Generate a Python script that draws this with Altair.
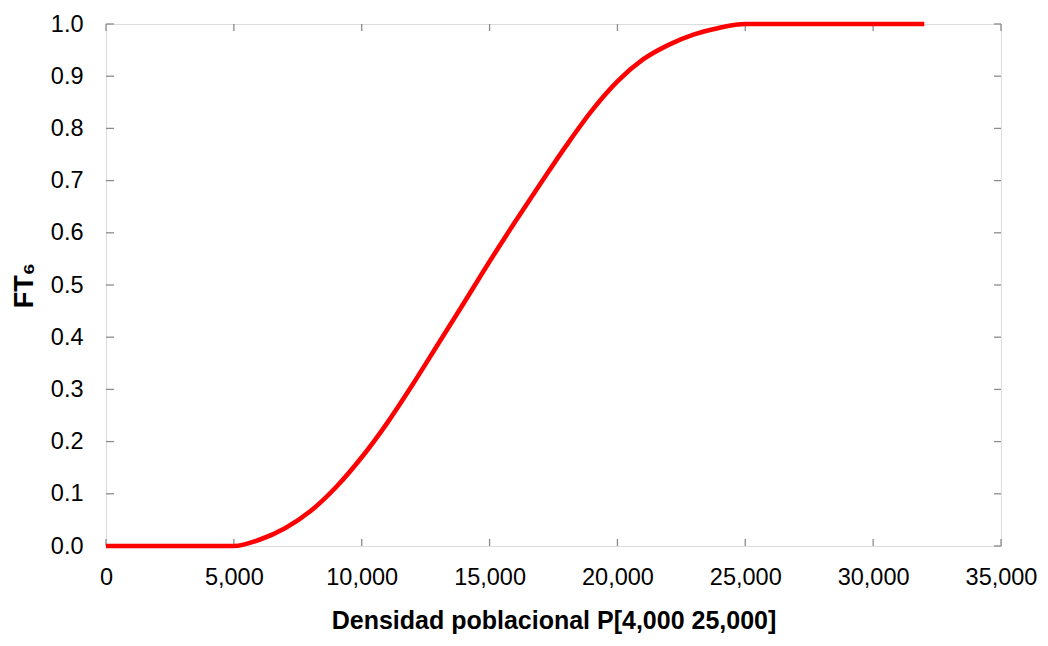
import altair as alt
import pandas as pd

# Data
density = [0, 1000, 2000, 3000, 4000, 5000, 6000, 7000, 8000, 9000, 10000,
           11000, 12000, 13000, 14000, 15000, 16000, 17000, 18000, 19000, 20000,
           21000, 22000, 23000, 24000, 25000, 26000, 27000, 28000, 29000, 30000,
           31000, 32000]
ft6 = [0.0, 0.0, 0.0, 0.0, 0.0, 0.0, 0.012, 0.034, 0.067, 0.113, 0.170,
       0.236, 0.310, 0.388, 0.466, 0.545, 0.621, 0.695, 0.767, 0.834, 0.890,
       0.932, 0.960, 0.980, 0.993, 1.0, 1.0, 1.0, 1.0, 1.0, 1.0,
       1.0, 1.0]
x_ticks = [0, 5000, 10000, 15000, 20000, 25000, 30000, 35000]
y_ticks = [0.0, 0.1, 0.2, 0.3, 0.4, 0.5, 0.6, 0.7, 0.8, 0.9, 1.0]

W, H = 895, 522
FONT = "Liberation Sans"
GRAY = "#8c8c8c"

df = pd.DataFrame({"x": density, "y": ft6})
xt = pd.DataFrame({"x": x_ticks})
yt = pd.DataFrame({"y": y_ticks})

xscale = alt.Scale(domain=[0, 35000], nice=False, zero=False)
yscale = alt.Scale(domain=[0, 1], nice=False)

line = alt.Chart(df).mark_line(color="#ff0000", strokeWidth=4.6, strokeCap="butt",
                               interpolate="monotone").encode(
    x=alt.X("x:Q", scale=xscale,
            axis=alt.Axis(values=x_ticks, format=",d", title="Densidad poblacional P[4,000 25,000]",
                          grid=False, domain=False, ticks=False, labelPadding=19,
                          labelFontSize=23.5, labelFont=FONT, labelColor="#000000",
                          titleFont=FONT, titleFontSize=25, titleFontWeight="bold",
                          titleColor="#000000", titlePadding=20, labelFlush=False)),
    y=alt.Y("y:Q", scale=yscale,
            axis=alt.Axis(values=y_ticks, format=".1f", title="FT₆",
                          grid=False, domain=False, ticks=False, labelPadding=23,
                          labelFontSize=23.5, labelFont=FONT, labelColor="#000000",
                          titleFont=FONT, titleFontSize=27, titleFontWeight="bold",
                          titleColor="#000000", titlePadding=12, labelFlush=False)),
)

tick_bottom = alt.Chart(xt).mark_rule(color=GRAY, strokeWidth=1.3).encode(
    x=alt.X("x:Q", scale=xscale), y=alt.value(H), y2=alt.value(H - 7))
tick_top = alt.Chart(xt).mark_rule(color=GRAY, strokeWidth=1.3).encode(
    x=alt.X("x:Q", scale=xscale), y=alt.value(0), y2=alt.value(7))
tick_left = alt.Chart(yt).mark_rule(color=GRAY, strokeWidth=1.3).encode(
    y=alt.Y("y:Q", scale=yscale), x=alt.value(0), x2=alt.value(8))
tick_right = alt.Chart(yt).mark_rule(color=GRAY, strokeWidth=1.3).encode(
    y=alt.Y("y:Q", scale=yscale), x=alt.value(W), x2=alt.value(W - 7))

chart = alt.layer(tick_bottom, tick_top, tick_left, tick_right, line).properties(
    width=W, height=H,
    autosize=alt.AutoSizeParams(type="none"),
    padding={"left": 98, "top": 16, "right": 36, "bottom": 98},
).configure_view(stroke=GRAY, strokeWidth=1.6).configure(background="white")

chart.save("out.html", embed_options={"renderer": "svg", "actions": False})
